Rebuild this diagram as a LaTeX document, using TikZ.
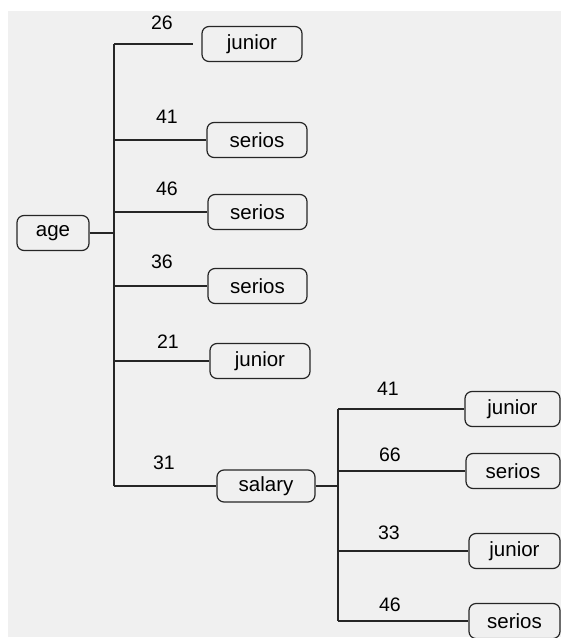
\documentclass[tikz,border=0pt]{standalone}
\usepackage{fontspec}
\setmainfont{Liberation Sans}
\begin{document}
\begin{tikzpicture}[x=1pt,y=-1pt,
  box/.style={draw=black!85, line width=1.2pt, rounded corners=7pt, inner sep=0pt, minimum height=35pt, font=\fontsize{20.5}{22}\selectfont},
  lbl/.style={font=\fontsize{19.5}{21}\selectfont, inner sep=0pt},
  conn/.style={draw=black!85, line width=1.3pt}]
\useasboundingbox (0,0) rectangle (561,638);
\fill[white] (0,0) rectangle (561,638);
\fill[black!6] (8,11) rectangle (561,637);
% nodes
\node[box, minimum width=72pt] (age) at (53,233) {age};
\node[box, minimum width=100pt] (j1) at (252,44) {junior};
\node[box, minimum width=100pt] (s2) at (257,140) {serios};
\node[box, minimum width=99pt] (s3) at (257.5,212) {serios};
\node[box, minimum width=99pt] (s4) at (257.5,286) {serios};
\node[box, minimum width=100pt] (j5) at (260,361) {junior};
\node[box, minimum width=98pt, minimum height=32pt] (sal) at (266,486) {salary};
\node[box, minimum width=95pt] (ja) at (512.5,409) {junior};
\node[box, minimum width=94pt] (sb) at (513,471) {serios};
\node[box, minimum width=91pt] (jc) at (514.5,551) {junior};
\node[box, minimum width=91pt] (sd) at (514.5,621) {serios};
% labels
\node[lbl] (l1) at (162,23) {26};
\node[lbl] (l2) at (167,117) {41};
\node[lbl] (l3) at (167,189) {46};
\node[lbl] (l4) at (162,262) {36};
\node[lbl] (l5) at (168,342) {21};
\node[lbl] (l6) at (164,463) {31};
\node[lbl] (la) at (388,389) {41};
\node[lbl] (lb) at (390,455) {66};
\node[lbl] (lc) at (389,533) {33};
\node[lbl] (ld) at (390,605) {46};
% trunks
\coordinate (t) at (114,233);
\coordinate (u) at (338,486);
\draw[conn] (age.east) -- (t);
\draw[conn] (j1.west -| t) -- (sal.west -| t);
\draw[conn, shorten >=8pt] (j1.west -| t) -- (j1.west);
\foreach \n in {s2,s3,s4,j5,sal} \draw[conn] (\n.west -| t) -- (\n.west);
\draw[conn] (sal.east) -- (u);
\draw[conn] (ja.west -| u) -- (sd.west -| u);
\foreach \n in {ja,sb,jc,sd} \draw[conn] (\n.west -| u) -- (\n.west);
\end{tikzpicture}
\end{document}
